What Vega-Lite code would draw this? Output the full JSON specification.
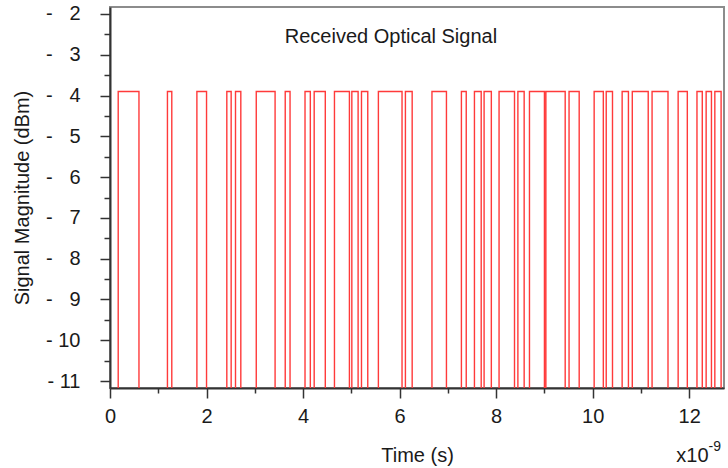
{
  "$schema": "https://vega.github.io/schema/vega-lite/v6.json",
  "width": 614,
  "height": 381,
  "autosize": {"type": "none"},
  "padding": {"left": 110, "top": 7, "right": 4, "bottom": 80},
  "background": "white",
  "config": {
    "font": "Liberation Sans",
    "view": {"stroke": "#8c8c8c", "strokeWidth": 2},
    "axis": {
      "grid": false,
      "zindex": 1,
      "domainColor": "#333333",
      "domainWidth": 2,
      "tickColor": "#333333",
      "tickWidth": 1.5,
      "labelFont": "Liberation Sans",
      "labelFontSize": 20,
      "labelColor": "#1a1a1a",
      "titleFont": "Liberation Sans",
      "titleFontSize": 20,
      "titleFontWeight": "normal",
      "titleColor": "#1a1a1a"
    }
  },
  "resolve": {"axis": {"x": "independent", "y": "independent"}},
  "layer": [
    {
      "data": {
        "values": [
          {"t": 0, "v": -11.5},
          {"t": 0.17, "v": -3.9}, {"t": 0.60, "v": -11.5},
          {"t": 1.19, "v": -3.9}, {"t": 1.28, "v": -11.5},
          {"t": 1.80, "v": -3.9}, {"t": 2.00, "v": -11.5},
          {"t": 2.42, "v": -3.9}, {"t": 2.51, "v": -11.5},
          {"t": 2.60, "v": -3.9}, {"t": 2.71, "v": -11.5},
          {"t": 3.03, "v": -3.9}, {"t": 3.42, "v": -11.5},
          {"t": 3.63, "v": -3.9}, {"t": 3.73, "v": -11.5},
          {"t": 4.04, "v": -3.9}, {"t": 4.15, "v": -11.5},
          {"t": 4.23, "v": -3.9}, {"t": 4.46, "v": -11.5},
          {"t": 4.65, "v": -3.9}, {"t": 4.96, "v": -11.5},
          {"t": 5.01, "v": -3.9}, {"t": 5.14, "v": -11.5},
          {"t": 5.21, "v": -3.9}, {"t": 5.34, "v": -11.5},
          {"t": 5.56, "v": -3.9}, {"t": 6.05, "v": -11.5},
          {"t": 6.12, "v": -3.9}, {"t": 6.26, "v": -11.5},
          {"t": 6.67, "v": -3.9}, {"t": 6.97, "v": -11.5},
          {"t": 7.28, "v": -3.9}, {"t": 7.38, "v": -11.5},
          {"t": 7.55, "v": -3.9}, {"t": 7.69, "v": -11.5},
          {"t": 7.75, "v": -3.9}, {"t": 7.90, "v": -11.5},
          {"t": 8.06, "v": -3.9}, {"t": 8.38, "v": -11.5},
          {"t": 8.45, "v": -3.9}, {"t": 8.58, "v": -11.5},
          {"t": 8.69, "v": -3.9}, {"t": 9.00, "v": -11.5},
          {"t": 9.03, "v": -3.9}, {"t": 9.43, "v": -11.5},
          {"t": 9.51, "v": -3.9}, {"t": 9.72, "v": -11.5},
          {"t": 10.03, "v": -3.9}, {"t": 10.22, "v": -11.5},
          {"t": 10.28, "v": -3.9}, {"t": 10.41, "v": -11.5},
          {"t": 10.61, "v": -3.9}, {"t": 10.74, "v": -11.5},
          {"t": 10.82, "v": -3.9}, {"t": 11.15, "v": -11.5},
          {"t": 11.23, "v": -3.9}, {"t": 11.56, "v": -11.5},
          {"t": 11.77, "v": -3.9}, {"t": 11.96, "v": -11.5},
          {"t": 12.16, "v": -3.9}, {"t": 12.27, "v": -11.5},
          {"t": 12.35, "v": -3.9}, {"t": 12.46, "v": -11.5},
          {"t": 12.53, "v": -3.9}, {"t": 12.66, "v": -11.5},
          {"t": 12.72, "v": -11.5}
        ]
      },
      "mark": {"type": "line", "interpolate": "step-after", "color": "#ff3a3a", "strokeWidth": 1.4, "clip": true},
      "encoding": {
        "x": {
          "field": "t", "type": "quantitative",
          "scale": {"domain": [0, 12.72], "nice": false, "zero": false},
          "axis": {"orient": "bottom", "values": [0, 2, 4, 6, 8, 10, 12], "tickSize": 10, "labelPadding": 8, "title": "Time (s)", "titlePadding": 19, "labelFlush": false}
        },
        "y": {
          "field": "v", "type": "quantitative",
          "scale": {"domain": [-11.17, -1.83], "nice": false, "zero": false},
          "axis": {
            "orient": "left",
            "values": [-2, -3, -4, -5, -6, -7, -8, -9, -10, -11],
            "tickSize": 10,
            "labelPadding": 20,
            "labelExpr": "datum.value <= -10 ? '-\u00a0' + abs(datum.value) : '-\u00a0\u00a0\u00a0' + abs(datum.value)",
            "title": "Signal Magnitude (dBm)",
            "titlePadding": 13
          }
        }
      }
    },
    {
      "data": {"values": [{"t": 5.82, "v": -2.56, "label": "Received Optical Signal"}]},
      "mark": {"type": "text", "fontSize": 20, "font": "Liberation Sans", "color": "#1a1a1a", "align": "center", "baseline": "middle"},
      "encoding": {
        "x": {
          "field": "t", "type": "quantitative",
          "axis": {"orient": "bottom", "values": [1, 3, 5, 7, 9, 11], "labels": false, "domain": false, "tickSize": 5, "title": null}
        },
        "y": {
          "field": "v", "type": "quantitative",
          "axis": {"orient": "left", "values": [-2.5, -3.5, -4.5, -5.5, -6.5, -7.5, -8.5, -9.5, -10.5], "labels": false, "domain": false, "tickSize": 6, "title": null}
        },
        "text": {"field": "label", "type": "nominal"}
      }
    },
    {
      "data": {"values": [{"t": 12.4, "v": -12.98, "label": "x10"}]},
      "mark": {"type": "text", "fontSize": 20, "font": "Liberation Sans", "color": "#1a1a1a", "align": "right", "baseline": "alphabetic"},
      "encoding": {
        "x": {"field": "t", "type": "quantitative", "axis": null},
        "y": {"field": "v", "type": "quantitative", "axis": null},
        "text": {"field": "label", "type": "nominal"}
      }
    },
    {
      "data": {"values": [{"t": 12.4, "v": -12.72, "label": "-9"}]},
      "mark": {"type": "text", "fontSize": 14, "font": "Liberation Sans", "color": "#1a1a1a", "align": "left", "baseline": "alphabetic"},
      "encoding": {
        "x": {"field": "t", "type": "quantitative", "axis": null},
        "y": {"field": "v", "type": "quantitative", "axis": null},
        "text": {"field": "label", "type": "nominal"}
      }
    }
  ]
}
